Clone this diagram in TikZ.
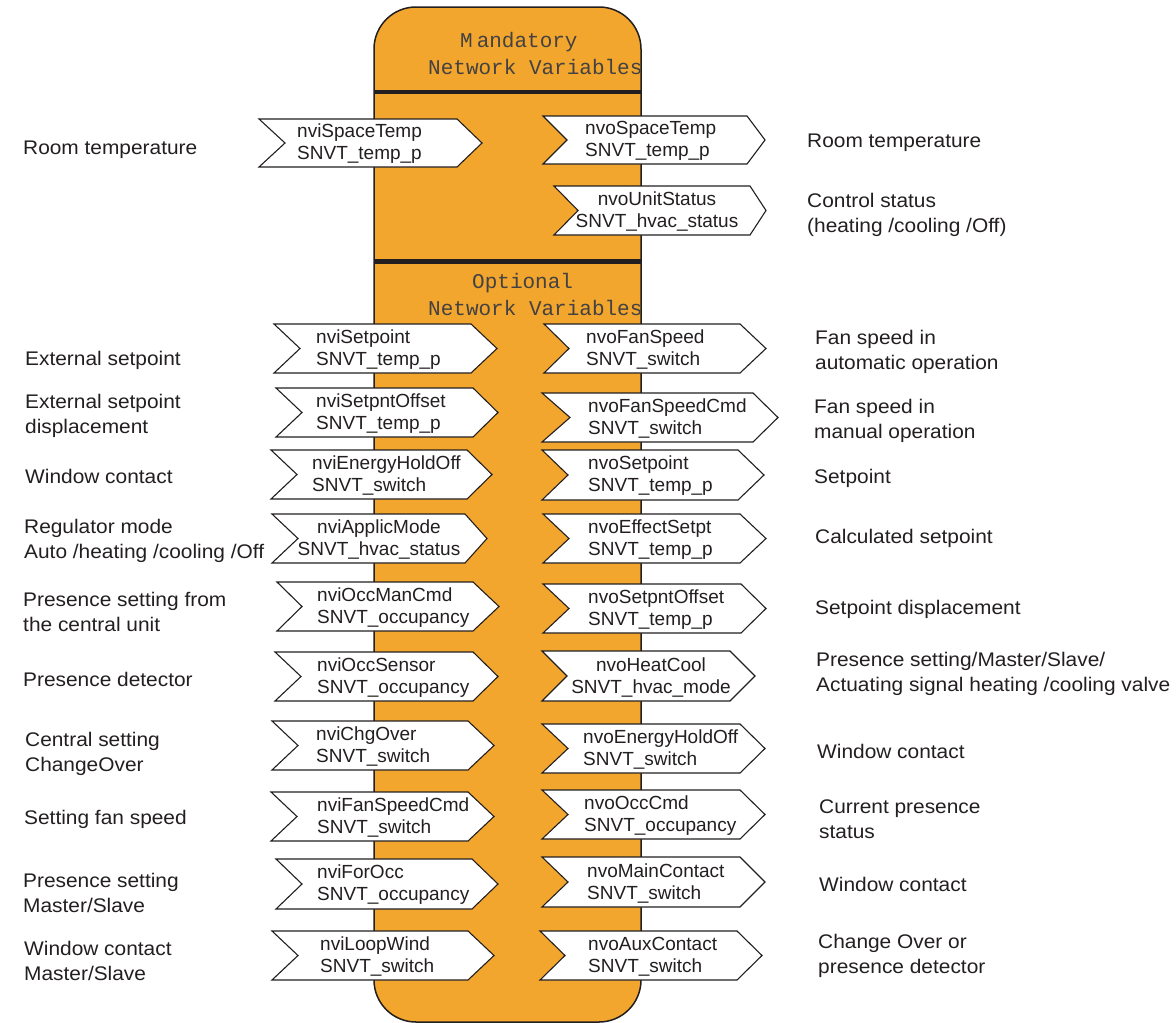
\documentclass[tikz,border=0pt]{standalone}
\usepackage{fontspec}
\setmainfont{Liberation Sans}
\newfontfamily\monof{Liberation Mono}
\newfontfamily\labfont[FakeStretch=1.06]{Liberation Sans}
\definecolor{colfill}{RGB}{242,166,45}
\definecolor{ink}{RGB}{35,31,32}
\newcommand\mychev[6]{\draw[chev] (#1,#5) -- (#3,#5) -- (#4,{(#5+#6)/2}) -- (#3,#6) -- (#1,#6) -- (#2,{(#5+#6)/2}) -- cycle;}
\begin{document}
\begin{tikzpicture}[x=1pt,y=-1pt,
  chev/.style={draw=ink, fill=white, line width=1.1pt, line join=miter},
  vt/.style={inner sep=0pt, align=left, anchor=west, text=ink, font=\fontsize{19}{22}\selectfont},
  vtc/.style={inner sep=0pt, align=center, text=ink, font=\fontsize{19}{22}\selectfont},
  lab/.style={inner sep=0pt, align=left, anchor=west, text=ink, font=\labfont\fontsize{19.7}{24.5}\selectfont},
  mono/.style={inner sep=0pt, anchor=west, text=ink!85, font=\monof\fontsize{21}{25}\selectfont}]
\useasboundingbox (0,0) rectangle (1176,1023);
% central column
\draw[fill=colfill, draw=ink, line width=1.5pt, rounded corners=42pt] (374,7) rectangle (641,1022);
\draw[ink, line width=4.5pt] (374,92) -- (641,92);
\draw[ink, line width=4.5pt] (374,261.5) -- (641,261.5);
\node[mono] (mand) at (460,42) {M\kern4pt andatory};
\node[mono] (netvar1) at (428,67) {Network Variables};
\node[mono] (opt) at (472,283) {Optional};
\node[mono] (netvar2) at (428,308) {Network Variables};
% input chevrons
\mychev{259}{285}{457}{482}{119}{167}
\node[vt] (nviSpaceTemp) at (297,144) {nviSpaceTemp\\SNVT\_temp\_p};
\mychev{274}{300}{471}{497}{324}{373}
\node[vt] (nviSetpoint) at (316,349.5) {nviSetpoint\\SNVT\_temp\_p};
\mychev{276}{302}{473}{498}{388}{437}
\node[vt] (nviSetpntOffset) at (316,413.5) {nviSetpntOffset\\SNVT\_temp\_p};
\mychev{271}{297}{467}{492}{450}{499}
\node[vt] (nviEnergyHoldOff) at (312,475.5) {nviEnergyHoldOff\\SNVT\_switch};
\mychev{272}{298}{465}{487}{514}{563}
\node[vtc] (nviApplicMode) at (379,539.5) {nviApplicMode\\SNVT\_hvac\_status};
\mychev{277}{302}{473}{499}{582}{631}
\node[vt] (nviOccManCmd) at (317,607.5) {nviOccManCmd\\SNVT\_occupancy};
\mychev{275}{301}{473}{498}{652}{701}
\node[vt] (nviOccSensor) at (317,677.5) {nviOccSensor\\SNVT\_occupancy};
\mychev{272}{298}{468}{494}{721}{770}
\node[vt] (nviChgOver) at (316,746.5) {nviChgOver\\SNVT\_switch};
\mychev{271}{297}{468}{494}{792}{841}
\node[vt] (nviFanSpeedCmd) at (317,817.5) {nviFanSpeedCmd\\SNVT\_switch};
\mychev{276}{302}{472}{498}{859}{909}
\node[vt] (nviForOcc) at (317,885) {nviForOcc\\SNVT\_occupancy};
\mychev{272}{298}{468}{494}{931}{980}
\node[vt] (nviLoopWind) at (320,956.5) {nviLoopWind\\SNVT\_switch};
% output chevrons
\mychev{543}{567}{747}{765}{116}{164}
\node[vt] (nvoSpaceTemp) at (585,141) {nvoSpaceTemp\\SNVT\_temp\_p};
\mychev{554}{578}{750}{766}{186}{235}
\node[vtc] (nvoUnitStatus) at (657,211.5) {nvoUnitStatus\\SNVT\_hvac\_status};
\mychev{544}{569}{740}{766}{324}{373}
\node[vt] (nvoFanSpeed) at (586,349.5) {nvoFanSpeed\\SNVT\_switch};
\mychev{542}{570}{753}{778}{393}{442}
\node[vt] (nvoFanSpeedCmd) at (588,418.5) {nvoFanSpeedCmd\\SNVT\_switch};
\mychev{542}{568}{738}{764}{450}{500}
\node[vt] (nvoSetpoint) at (588,476) {nvoSetpoint\\SNVT\_temp\_p};
\mychev{543}{569}{740}{766}{514}{563}
\node[vt] (nvoEffectSetpt) at (588,539.5) {nvoEffectSetpt\\SNVT\_temp\_p};
\mychev{543}{569}{741}{766}{584}{633}
\node[vt] (nvoSetpntOffset) at (588,609.5) {nvoSetpntOffset\\SNVT\_temp\_p};
\mychev{542}{567}{730}{755}{651}{701}
\node[vtc] (nvoHeatCool) at (651,677) {nvoHeatCool\\SNVT\_hvac\_mode};
\mychev{542}{568}{740}{765}{724}{773}
\node[vt] (nvoEnergyHoldOff) at (583,749.5) {nvoEnergyHoldOff\\SNVT\_switch};
\mychev{542}{568}{740}{765}{790}{839}
\node[vt] (nvoOccCmd) at (584,815.5) {nvoOccCmd\\SNVT\_occupancy};
\mychev{542}{568}{740}{765}{857}{907}
\node[vt] (nvoMainContact) at (587,883) {nvoMainContact\\SNVT\_switch};
\mychev{540}{565}{737}{762}{931}{980}
\node[vt] (nvoAuxContact) at (588,956.5) {nvoAuxContact\\SNVT\_switch};
% left labels
\node[lab] (l1) at (23,150) {Room temperature};
\node[lab] (l2) at (25,360) {External setpoint};
\node[lab] (l3) at (25,416) {External setpoint\\displacement};
\node[lab] (l4) at (25,476) {Window contact};
\node[lab] (l5) at (24,541) {Regulator mode\\Auto /heating /cooling /Off};
\node[lab] (l6) at (23,612) {Presence setting from\\the central unit};
\node[lab] (l7) at (23,679) {Presence detector};
\node[lab] (l8) at (25,754) {Central setting\\ChangeOver};
\node[lab] (l9) at (24,819) {Setting fan speed};
\node[lab] (l10) at (23,893) {Presence setting\\Master/Slave};
\node[lab] (l11) at (24,961) {Window contact\\Master/Slave};
% right labels
\node[lab] (r1) at (807,143) {Room temperature};
\node[lab] (r2) at (807,215) {Control status\\(heating /cooling /Off)};
\node[lab] (r3) at (815,352) {Fan speed in\\automatic operation};
\node[lab] (r4) at (814,421) {Fan speed in\\manual operation};
\node[lab] (r5) at (814,478) {Setpoint};
\node[lab] (r6) at (815,538) {Calculated setpoint};
\node[lab] (r7) at (815,609) {Setpoint displacement};
\node[lab] (r8) at (816,674) {Presence setting/Master/Slave/\\Actuating signal heating /cooling valve};
\node[lab] (r9) at (817,751) {Window contact};
\node[lab] (r10) at (819,819) {Current presence\\status};
\node[lab] (r11) at (819,884) {Window contact};
\node[lab] (r12) at (818,956) {Change Over or\\presence detector};
\end{tikzpicture}
\end{document}
